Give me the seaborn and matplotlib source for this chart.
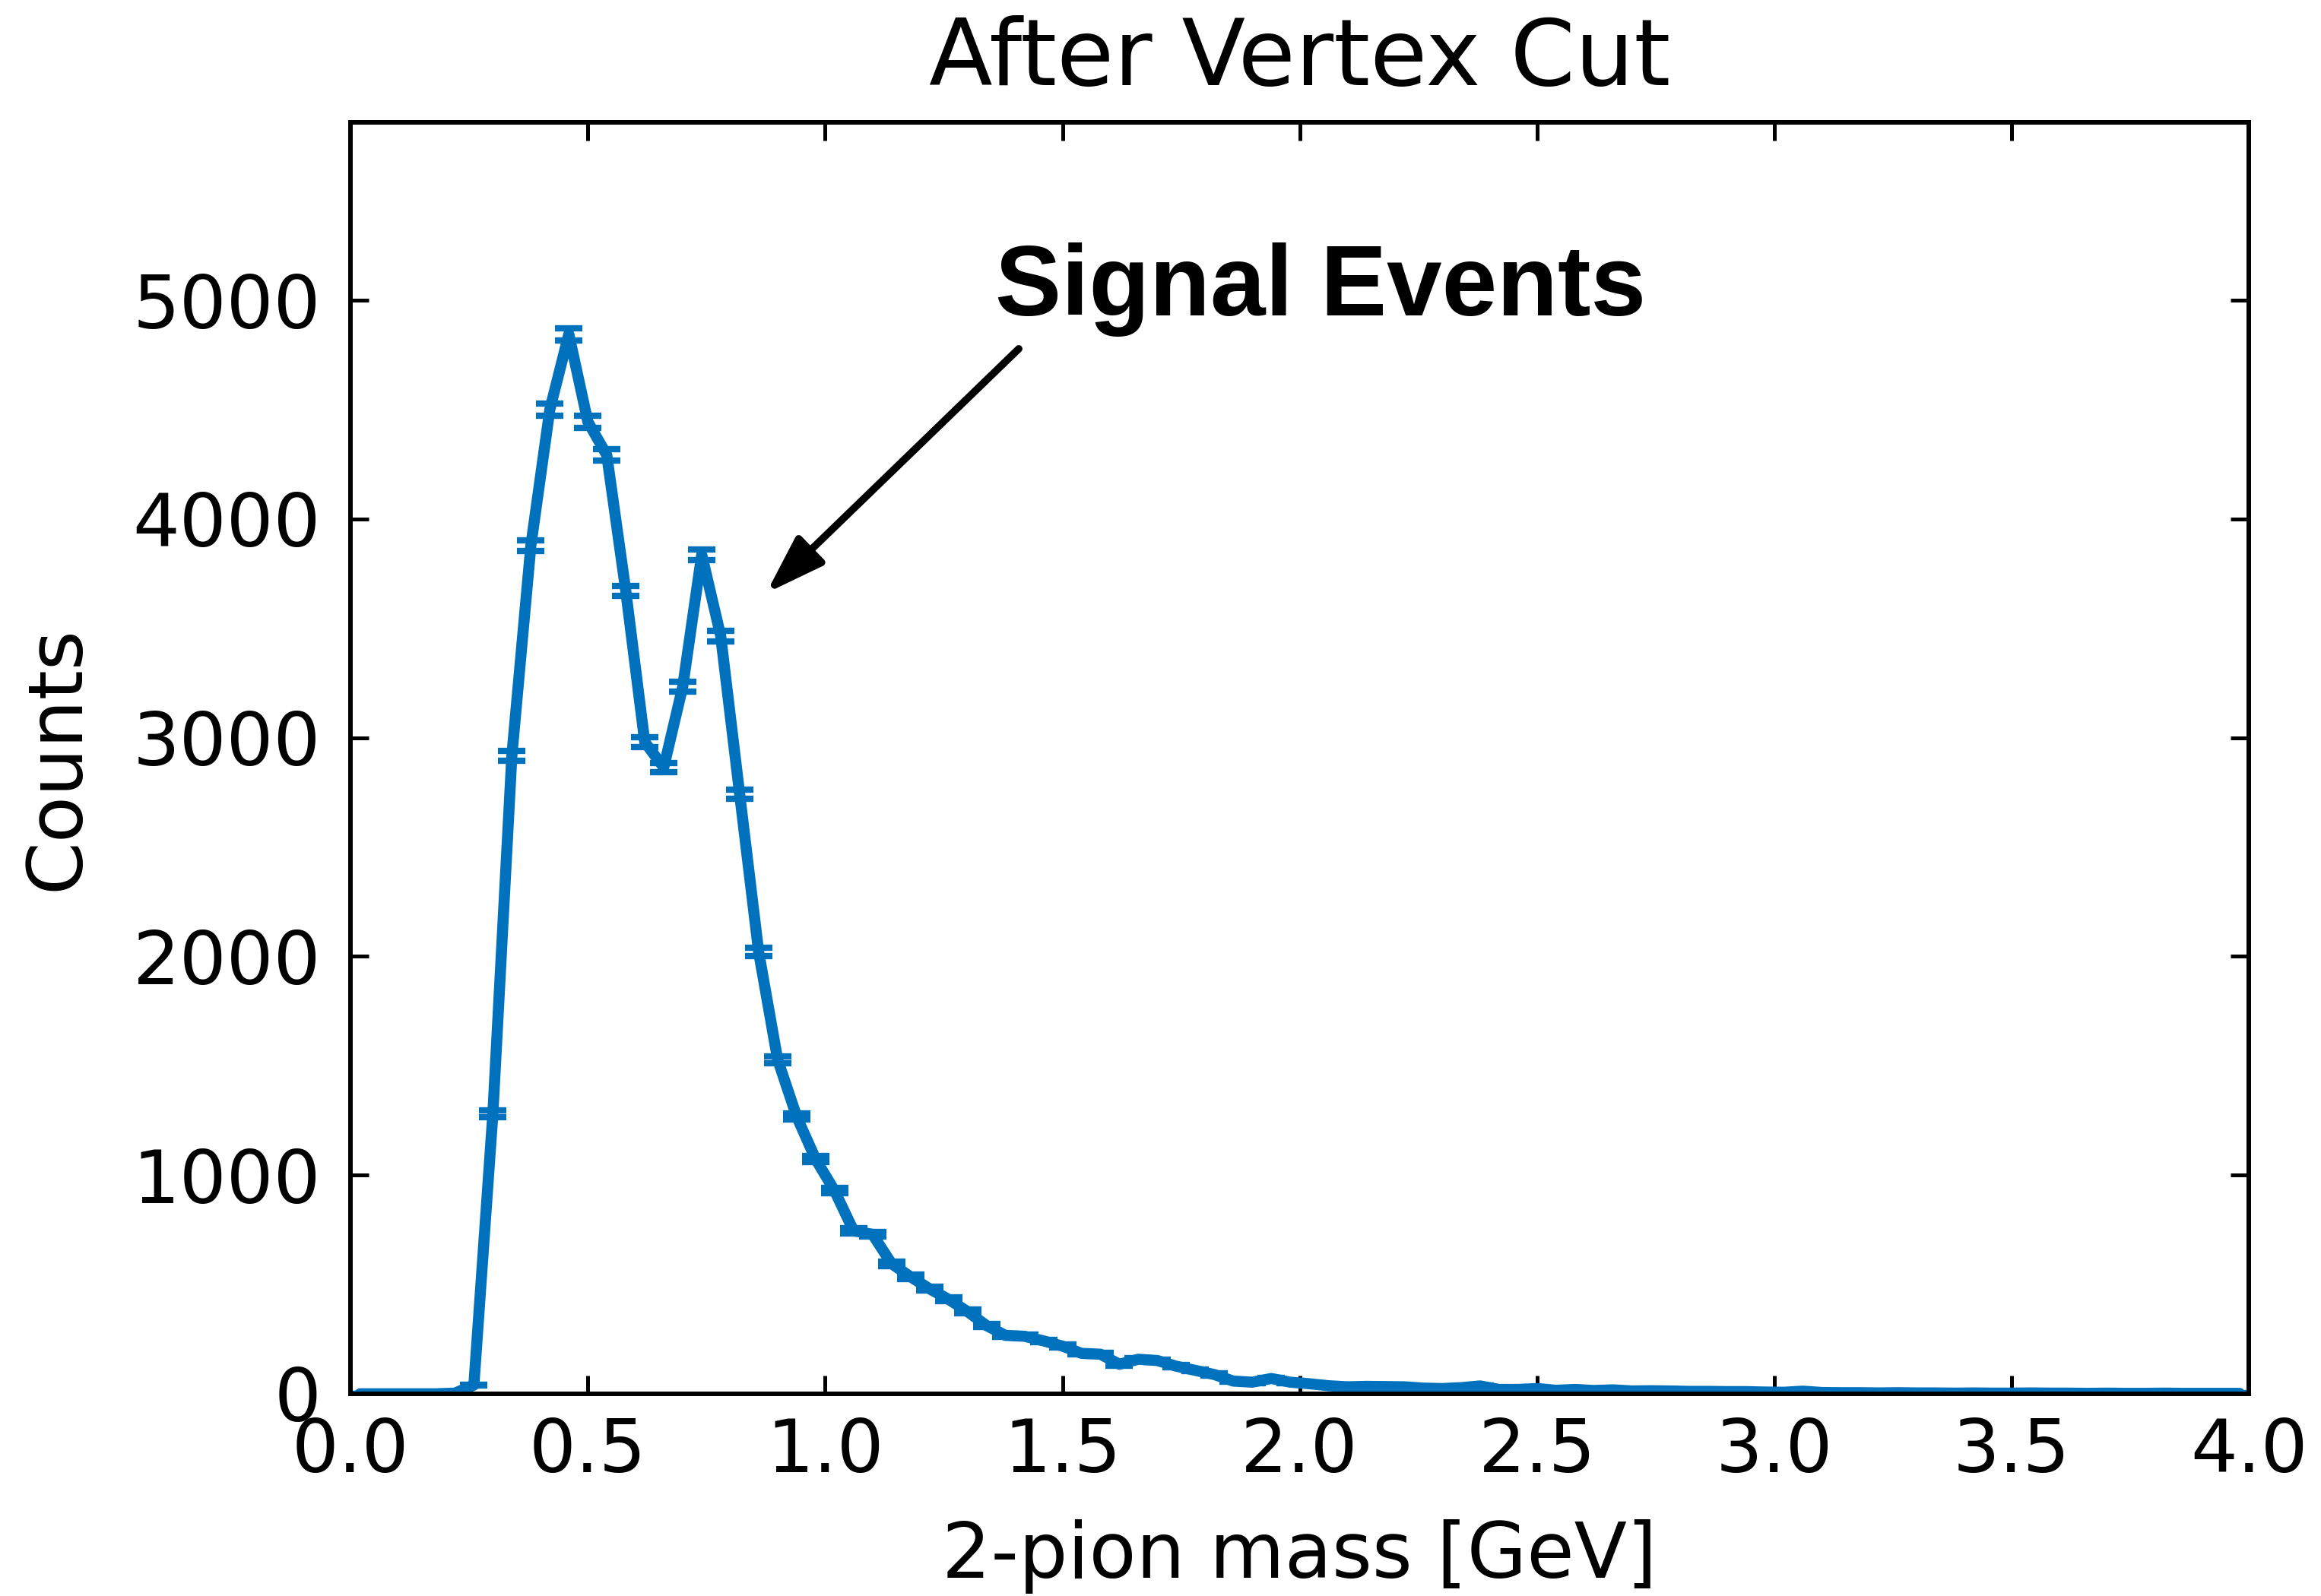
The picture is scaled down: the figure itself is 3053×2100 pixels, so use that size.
import numpy as np
import matplotlib
matplotlib.use("Agg")
import matplotlib.pyplot as plt
import seaborn as sns

# ---- data ----
bin_width = 0.04
n_bins = 100
counts = [
    0, 0, 0, 0, 0, 3, 40, 1280, 2917, 3877,
    4500, 4845, 4445, 4292, 3671, 2980, 2864, 3233, 3837, 3465,
    2741, 2020, 1528, 1268, 1073, 928, 745, 729, 595, 535,
    480, 432, 376, 312, 267, 263, 242, 218, 185, 181,
    135, 158, 152, 126, 107, 88, 58, 53, 70, 53,
    46, 37, 32, 34, 33, 32, 26, 24, 28, 36,
    20, 20, 24, 16, 20, 15, 18, 13, 14, 13,
    11, 11, 10, 10, 8, 7, 12, 6, 5, 5,
    4, 5, 4, 4, 3, 4, 3, 3, 4, 3,
    3, 2, 3, 2, 2, 3, 2, 2, 2, 2,
]
errors = [
    0, 0, 0, 0, 0, 1, 3, 15, 22, 25,
    27, 28, 27, 26, 24, 22, 21, 23, 25, 24,
    21, 18, 16, 14, 13, 12, 11, 11, 10, 9,
    9, 8, 8, 7, 7, 7, 6, 6, 6, 6,
    5, 5, 5, 5, 4, 4, 3, 3, 3, 3,
    3, 3, 2, 2, 2, 2, 2, 2, 2, 2,
    2, 2, 2, 2, 2, 2, 2, 1, 1, 1,
    1, 1, 1, 1, 1, 1, 1, 1, 1, 1,
    1, 1, 1, 1, 1, 1, 1, 1, 1, 1,
    1, 1, 1, 1, 1, 1, 1, 1, 1, 1,
]
x_ticks = [0.0, 0.5, 1.0, 1.5, 2.0, 2.5, 3.0, 3.5, 4.0]
y_ticks = [0, 1000, 2000, 3000, 4000, 5000]
title = "After Vertex Cut"
xlabel = "2-pion mass [GeV]"
ylabel = "Counts"
annotation = "Signal Events"

centers = np.arange(n_bins) * bin_width + bin_width / 2
counts = np.array(counts, dtype=float)
errors = np.array(errors, dtype=float)

blue = "#0072BD"

sns.set_theme(style="ticks")
plt.rcParams["font.family"] = ["DejaVu Sans"]

fig = plt.figure(figsize=(30.53, 21.0), dpi=100)
ax = fig.add_axes([0.151, 0.1267, 0.818, 0.7966])
ax.set_facecolor("white")

sns.lineplot(x=centers, y=counts, ax=ax, color=blue, linewidth=10.5)
ax.errorbar(centers, counts, yerr=errors, fmt="none", ecolor=blue,
            elinewidth=5, capsize=13, capthick=6)

ax.set_xlim(0, 4.0)
ax.set_ylim(0, 5813)
ax.set_xticks(x_ticks)
ax.set_xticklabels([f"{t:.1f}" for t in x_ticks])
ax.set_yticks(y_ticks)
ax.set_yticklabels([str(t) for t in y_ticks])

ax.tick_params(axis="both", which="major", direction="in", length=17, width=3.6,
               top=True, right=True, labelsize=70, color="black", labelcolor="black")
ax.tick_params(axis="x", pad=22)
ax.tick_params(axis="y", pad=28)
for s in ax.spines.values():
    s.set_linewidth(4.3)
    s.set_color("black")
    s.set_visible(True)

ax.set_title(title, fontsize=88, pad=35, color="black")
ax.set_xlabel(xlabel, fontsize=73, labelpad=30, color="black")
ax.set_ylabel(ylabel, fontsize=72, labelpad=36, color="black")

ax.annotate("", xy=(0.876, 3661), xytext=(1.408, 4778),
            arrowprops=dict(arrowstyle="-|>,head_length=0.6,head_width=0.2",
                            lw=7, color="black", mutation_scale=78,
                            shrinkA=0, shrinkB=0))
ax.text(1.358, 4931, annotation, fontsize=94, fontweight="bold",
        family=["Liberation Sans", "DejaVu Sans"], ha="left", va="baseline",
        color="black")

fig.savefig("out.png", dpi=100, facecolor="white")
